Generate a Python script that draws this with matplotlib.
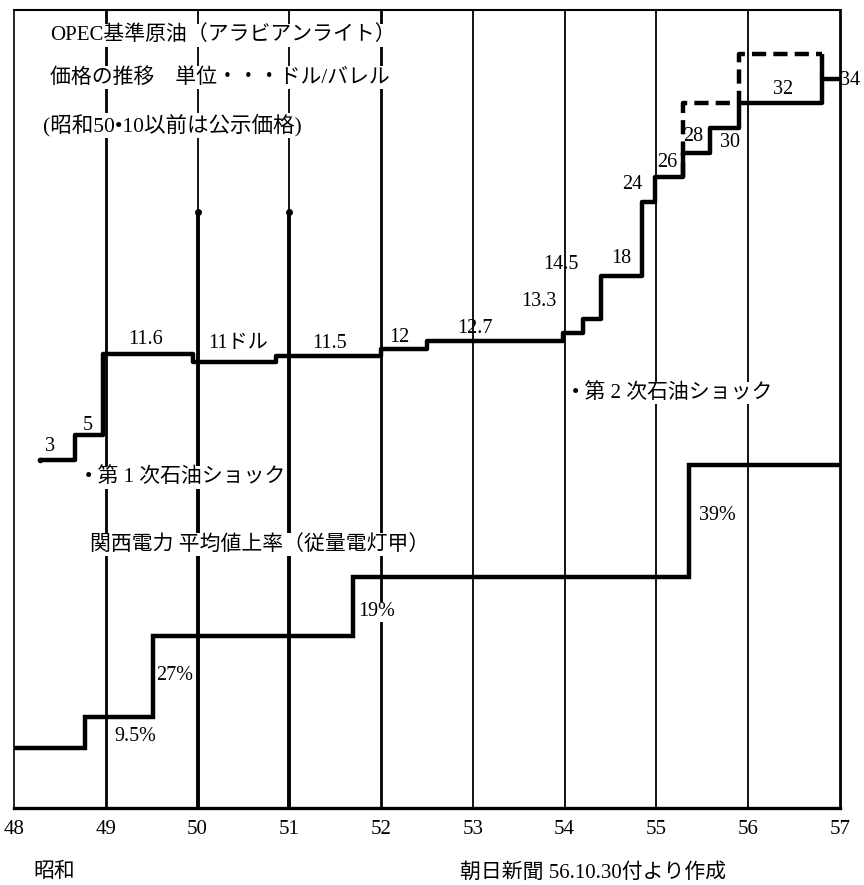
import numpy as np
import matplotlib
matplotlib.use('Agg')
from matplotlib import pyplot as plt

plt.rcParams['font.family'] = ['Liberation Serif', 'Noto Sans CJK JP']

# 年 (昭和)
years = list(range(48, 58))

# OPEC基準原油 価格 (ドル/バレル) : 改定時期と価格
oil_t = [48.28, 48.67, 48.97, 49.95, 50.86, 52.0, 52.5, 53.98, 54.2, 54.4, 54.84, 54.98, 55.29, 55.58, 55.9, 56.8, 57.0]
oil_price = [3, 5, 11.6, 11, 11.5, 12, 12.7, 13.3, 14.5, 18, 24, 26, 28, 30, 32, 34, 34]
oil_labels = ['3', '5', '11.6', '11ドル', '11.5', '12', '12.7', '13.3', '14.5', '18', '24', '26', '28', '30', '32', '34']
oil_label_x = [48.39, 48.80, 49.43, 50.44, 51.44, 52.20, 53.02, 53.72, 53.96, 54.62, 54.74, 55.12, 55.40, 55.80, 56.38, 57.11]
oil_label_y = [4.1, 5.8, 12.8, 12.5, 12.5, 13.0, 13.7, 15.9, 18.9, 19.4, 25.4, 27.2, 29.3, 28.8, 33.1, 33.9]

# 破線 (高値側)
dash_t = [55.29, 55.29, 55.9, 56.8]
dash_price = [26, 32, 36, 36]

# 関西電力 平均値上率 (%)
elec_t = [48.0, 48.77, 49.51, 51.69, 55.36, 57.0]
elec_rise = [0, 9.5, 27, 19, 39]
elec_label_x = [49.32, 49.75, 51.95, 55.66]
elec_label_y = [103.3, 123.6, 149.2, 198.0]

fig = plt.figure(figsize=(8.64, 8.85), dpi=100)
ax = fig.add_axes([14/864, 1-808/885, (840-14)/864, (808-10)/885])
ax.set_xlim(48, 57)
ax.set_ylim(-25.3, 39.6)

# 縦線
for yr in years[1:-1]:
    lw = 2.0 if yr <= 52 else 1.3
    ax.axvline(yr, color='black', lw=lw if yr not in (50, 51) else 1.3, zorder=1)
for yr in (50, 51):
    ax.plot([yr, yr], [-25.3, 23.2], color='black', lw=2.8, zorder=1)
    ax.plot(yr, 23.2, 'o', color='black', ms=4, zorder=1)

# 原油価格
ax.step(oil_t, oil_price, where='post', color='black', lw=3.2,
        solid_joinstyle='round', solid_capstyle='round', zorder=3)
ax.plot(oil_t[0], oil_price[0], 'o', color='black', ms=3)
ax.step(dash_t, dash_price, where='post', color='black', lw=3.2,
        linestyle=(0, (3.2, 1.6)), zorder=3)
ax.vlines(dash_t[-1], oil_price[-2], dash_price[-1], color='black', lw=3.2, zorder=3)

for lab, x, y in zip(oil_labels, oil_label_x, oil_label_y):
    ax.text(x, y, lab, fontsize=14.5, ha='center', va='center', zorder=4)

# 電気料金 (累積指数, 対数目盛)
ax2 = ax.twinx()
ax2.set_yscale('log')
ax2.set_ylim(83.8, 876)
elec_idx = 100 * np.cumprod([1 + r / 100 for r in elec_rise])
elec_idx = list(elec_idx) + [elec_idx[-1]]
ax2.step(elec_t, elec_idx, where='post', color='black', lw=3.2,
         solid_joinstyle='miter', zorder=3)
for r, x, y in zip(elec_rise[1:], elec_label_x, elec_label_y):
    s = ('%g' % r) + '%'
    ax2.text(x, y, s, fontsize=14.5, ha='center', va='center',
             bbox=dict(fc='white', ec='none', pad=0.5))
ax2.axis('off')

bb = dict(fc='white', ec='none', pad=1)
ax.text(48.39, 37.55, 'OPEC基準原油（アラビアンライト）', fontsize=15, ha='left', va='center', bbox=bb)
ax.text(48.39, 34.1, '価格の推移　単位・・・ドル/バレル', fontsize=15, ha='left', va='center', bbox=bb)
ax.text(48.32, 30.2, '(昭和50•10以前は公示価格)', fontsize=15.5, ha='left', va='center', bbox=bb)
ax.text(48.77, 1.6, '• 第 1 次石油ショック', fontsize=15, ha='left', va='center', bbox=bb)
ax.text(48.83, -3.9, '関西電力 平均値上率（従量電灯甲）', fontsize=15, ha='left', va='center', bbox=bb)
ax.text(54.08, 8.45, '• 第 2 次石油ショック', fontsize=15, ha='left', va='center', bbox=bb)

ax.set_xticks(years)
ax.set_xticklabels([str(y) for y in years], fontsize=15)
ax.tick_params(axis='x', length=0, pad=9)
ax.set_yticks([])
for side, w in (('left', 1.2), ('top', 1.5), ('right', 2.0), ('bottom', 2.4)):
    ax.spines[side].set_linewidth(w)

fig.text(33/864, 1-872/885, '昭和', fontsize=15, ha='left', va='center')
fig.text(460/864, 2/885, '朝日新聞 56.10.30付より作成', fontsize=15, ha='left', va='bottom')

plt.savefig('out.png', dpi=100)
